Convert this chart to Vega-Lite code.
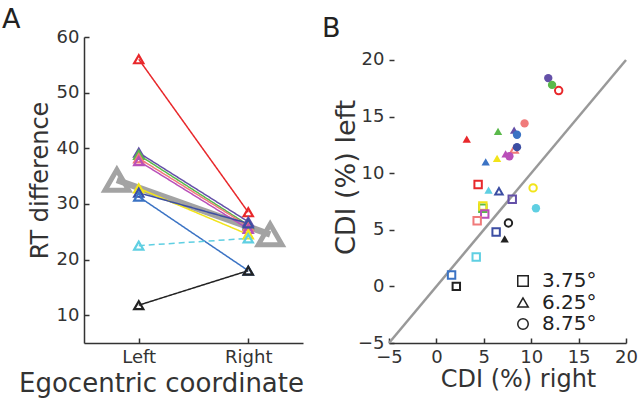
{
  "$schema": "https://vega.github.io/schema/vega-lite/v6.json",
  "background": "white",
  "padding": {"left": 2, "top": 6, "right": 5, "bottom": 5},
  "config": {
    "view": {"stroke": null},
    "font": "DejaVu Sans",
    "axis": {
      "grid": false,
      "domainColor": "#333333",
      "domainWidth": 1.5,
      "tickColor": "#333333",
      "tickWidth": 1.5,
      "tickSize": -5,
      "labelPadding": 10,
      "labelFont": "DejaVu Sans",
      "labelFontSize": 18,
      "labelColor": "#333333",
      "labelFlush": false,
      "labelOverlap": false,
      "titleFont": "DejaVu Sans",
      "titleFontWeight": "normal",
      "titleColor": "#333333"
    },
    "title": {"font": "DejaVu Sans", "fontSize": 27, "fontWeight": "normal", "anchor": "start", "color": "#222222", "frame": "group"},
    "concat": {"spacing": 18}
  },
  "datasets": {
    "rtA": [
      {"subject": "red", "pos": 1, "rt": 56.0}, {"subject": "red", "pos": 2, "rt": 28.5},
      {"subject": "purple", "pos": 1, "rt": 39.2}, {"subject": "purple", "pos": 2, "rt": 26.8},
      {"subject": "green", "pos": 1, "rt": 38.8}, {"subject": "green", "pos": 2, "rt": 26.2},
      {"subject": "salmon", "pos": 1, "rt": 38.2}, {"subject": "salmon", "pos": 2, "rt": 26.0},
      {"subject": "magenta", "pos": 1, "rt": 37.7}, {"subject": "magenta", "pos": 2, "rt": 25.5},
      {"subject": "yellow", "pos": 1, "rt": 32.8}, {"subject": "yellow", "pos": 2, "rt": 24.5},
      {"subject": "navy", "pos": 1, "rt": 32.0}, {"subject": "navy", "pos": 2, "rt": 26.5},
      {"subject": "blue", "pos": 1, "rt": 31.3}, {"subject": "blue", "pos": 2, "rt": 18.0},
      {"subject": "cyan", "pos": 1, "rt": 22.5}, {"subject": "cyan", "pos": 2, "rt": 23.8},
      {"subject": "black", "pos": 1, "rt": 11.8}, {"subject": "black", "pos": 2, "rt": 18.0}
    ],
    "meanA": [{"pos": 0.8, "rt": 34.3}, {"pos": 2.2, "rt": 24.5}],
    "diag": [{"v": -5}, {"v": 20}],
    "cdi": [
      {"subject": "red", "deg": "3.75°", "right": 4.4, "left": 9.0, "filled": false},
      {"subject": "green", "deg": "3.75°", "right": 4.9, "left": 6.9, "filled": false},
      {"subject": "yellow", "deg": "3.75°", "right": 4.9, "left": 7.1, "filled": false},
      {"subject": "magenta", "deg": "3.75°", "right": 5.1, "left": 6.4, "filled": false},
      {"subject": "salmon", "deg": "3.75°", "right": 4.3, "left": 5.8, "filled": false},
      {"subject": "purple", "deg": "3.75°", "right": 8.0, "left": 7.7, "filled": false},
      {"subject": "navy", "deg": "3.75°", "right": 6.3, "left": 4.8, "filled": false},
      {"subject": "cyan", "deg": "3.75°", "right": 4.2, "left": 2.6, "filled": false},
      {"subject": "blue", "deg": "3.75°", "right": 1.6, "left": 1.0, "filled": false},
      {"subject": "black", "deg": "3.75°", "right": 2.1, "left": 0.0, "filled": false},
      {"subject": "red", "deg": "6.25°", "right": 3.2, "left": 13.0, "filled": true},
      {"subject": "green", "deg": "6.25°", "right": 6.5, "left": 13.7, "filled": true},
      {"subject": "blue", "deg": "6.25°", "right": 5.2, "left": 11.0, "filled": true},
      {"subject": "yellow", "deg": "6.25°", "right": 6.4, "left": 11.3, "filled": true},
      {"subject": "purple", "deg": "6.25°", "right": 8.2, "left": 13.8, "filled": true},
      {"subject": "magenta", "deg": "6.25°", "right": 7.3, "left": 11.7, "filled": true},
      {"subject": "salmon", "deg": "6.25°", "right": 8.2, "left": 12.1, "filled": false},
      {"subject": "cyan", "deg": "6.25°", "right": 5.5, "left": 8.5, "filled": true},
      {"subject": "navy", "deg": "6.25°", "right": 6.6, "left": 8.4, "filled": false},
      {"subject": "black", "deg": "6.25°", "right": 7.2, "left": 4.2, "filled": true},
      {"subject": "purple", "deg": "8.75°", "right": 11.8, "left": 18.4, "filled": true},
      {"subject": "green", "deg": "8.75°", "right": 12.2, "left": 17.8, "filled": true},
      {"subject": "red", "deg": "8.75°", "right": 12.9, "left": 17.3, "filled": false},
      {"subject": "salmon", "deg": "8.75°", "right": 9.3, "left": 14.4, "filled": true},
      {"subject": "blue", "deg": "8.75°", "right": 8.5, "left": 13.4, "filled": true},
      {"subject": "navy", "deg": "8.75°", "right": 8.5, "left": 12.3, "filled": true},
      {"subject": "magenta", "deg": "8.75°", "right": 7.7, "left": 11.5, "filled": true},
      {"subject": "yellow", "deg": "8.75°", "right": 10.2, "left": 8.7, "filled": false},
      {"subject": "cyan", "deg": "8.75°", "right": 10.5, "left": 6.9, "filled": true},
      {"subject": "black", "deg": "8.75°", "right": 7.6, "left": 5.6, "filled": false}
    ]
  },
  "hconcat": [
    {
      "width": 219,
      "height": 306,
      "title": {"text": "A", "dx": -82, "offset": -6},
      "encoding": {
        "x": {"field": "pos", "type": "quantitative", "scale": {"domain": [0.5, 2.5]},
          "axis": {"values": [1, 2], "labelExpr": "datum.value == 1 ? 'Left' : 'Right'", "title": "Egocentric coordinate", "titleFontSize": 26, "titleX": 77, "titleY": 48, "titleBaseline": "alphabetic"}},
        "y": {"field": "rt", "type": "quantitative", "scale": {"domain": [5, 60], "nice": false, "zero": false},
          "axis": {"values": [10, 20, 30, 40, 50, 60], "title": "RT difference", "titleFontSize": 24, "titleX": -37, "titleY": 143, "titleBaseline": "alphabetic"}}
      },
      "layer": [
        {"data": {"name": "meanA"}, "mark": {"type": "line", "color": "#a3a3a3", "strokeWidth": 6.5}},
        {"data": {"name": "meanA"}, "mark": {"type": "point", "shape": "triangle-up", "size": 560, "strokeWidth": 5, "color": "#a3a3a3", "filled": false, "opacity": 1}},
        {"data": {"name": "rtA"}, "mark": {"type": "line", "strokeWidth": 1.5},
          "encoding": {
            "color": {"field": "subject", "type": "nominal", "legend": null,
              "scale": {"domain": ["red", "purple", "green", "salmon", "magenta", "yellow", "blue", "navy", "cyan", "black"],
                "range": ["#e8282b", "#6450a8", "#5ab94a", "#f07a7a", "#b94fb9", "#f2e41a", "#3b73c4", "#3c4ea3", "#5fcfe2", "#222222"]}},
            "strokeDash": {"field": "subject", "type": "nominal", "legend": null,
              "scale": {"domain": ["red", "purple", "green", "salmon", "magenta", "yellow", "blue", "navy", "cyan", "black"],
                "range": [[1, 0], [1, 0], [1, 0], [1, 0], [1, 0], [1, 0], [1, 0], [1, 0], [6, 4], [1, 0]]}}
          }},
        {"data": {"name": "rtA"}, "mark": {"type": "point", "shape": "triangle-up", "size": 85, "strokeWidth": 2.2, "filled": false, "opacity": 1},
          "encoding": {
            "color": {"field": "subject", "type": "nominal", "legend": null}
          }}
      ]
    },
    {
      "width": 237,
      "height": 306,
      "title": {"text": "B", "dx": -67, "offset": -6},
      "encoding": {
        "x": {"field": "right", "type": "quantitative", "scale": {"domain": [-5, 20], "nice": false},
          "axis": {"values": [-5, 0, 5, 10, 15, 20], "title": "CDI (%) right", "titleFontSize": 24, "titleX": 129, "titleY": 43, "titleBaseline": "alphabetic"}},
        "y": {"field": "left", "type": "quantitative", "scale": {"domain": [-5, 22.03], "nice": false, "zero": false},
          "axis": {"values": [-5, 0, 5, 10, 15, 20], "domain": false, "title": "CDI (%) left", "titleFontSize": 27, "titleX": -35, "titleY": 140, "titleBaseline": "alphabetic"}}
      },
      "layer": [
        {"mark": {"type": "rule", "color": "#333333", "strokeWidth": 1.5},
          "encoding": {"x": {"datum": -5, "type": "quantitative"}, "y": {"datum": -5, "type": "quantitative"}, "y2": {"datum": 20}}},
        {"data": {"name": "diag"}, "mark": {"type": "line", "color": "#999999", "strokeWidth": 2.5},
          "encoding": {"x": {"field": "v", "type": "quantitative"}, "y": {"field": "v", "type": "quantitative"}}},
        {"data": {"name": "cdi"}, "transform": [{"filter": "!datum.filled"}],
          "mark": {"type": "point", "filled": false, "strokeWidth": 2, "size": 55, "opacity": 1},
          "encoding": {
            "color": {"field": "subject", "type": "nominal", "legend": null,
              "scale": {"domain": ["red", "purple", "green", "salmon", "magenta", "yellow", "blue", "navy", "cyan", "black"],
                "range": ["#e8282b", "#6450a8", "#5ab94a", "#f07a7a", "#b94fb9", "#f2e41a", "#3b73c4", "#3c4ea3", "#5fcfe2", "#222222"]}},
            "shape": {"field": "deg", "type": "nominal",
              "scale": {"domain": ["3.75°", "6.25°", "8.75°"], "range": ["square", "triangle-up", "circle"]},
              "legend": {"title": null, "orient": "none", "legendX": 429, "legendY": 234, "labelFontSize": 20, "labelFont": "DejaVu Sans", "labelColor": "#222222", "symbolSize": 110, "symbolStrokeWidth": 1.5, "symbolStrokeColor": "#222222", "symbolFillColor": "white", "rowPadding": 1.5, "labelOffset": 9}}
          }},
        {"data": {"name": "cdi"}, "transform": [{"filter": "datum.filled"}],
          "mark": {"type": "point", "filled": true, "size": 70, "opacity": 1},
          "encoding": {
            "color": {"field": "subject", "type": "nominal", "legend": null},
            "shape": {"field": "deg", "type": "nominal",
              "legend": {"title": null, "orient": "none", "legendX": 429, "legendY": 234, "labelFontSize": 20, "labelFont": "DejaVu Sans", "labelColor": "#222222", "symbolSize": 110, "symbolStrokeWidth": 1.5, "symbolStrokeColor": "#222222", "symbolFillColor": "white", "rowPadding": 1.5, "labelOffset": 9}}
          }}
      ]
    }
  ]
}
